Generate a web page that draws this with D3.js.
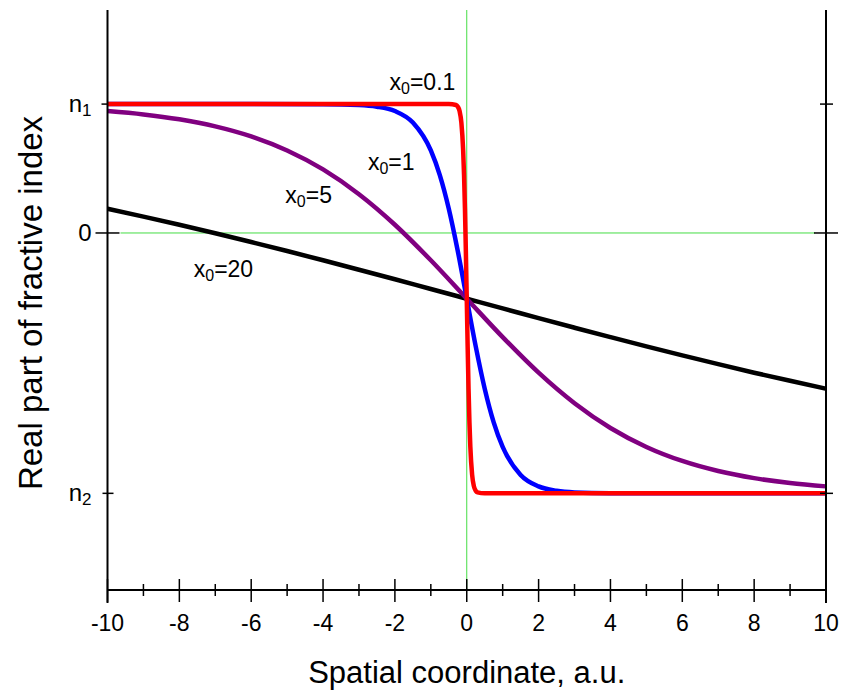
<!DOCTYPE html>
<html><head><meta charset="utf-8">
<script src="https://cdn.jsdelivr.net/npm/d3@7/dist/d3.min.js"></script>
<style>body{margin:0;background:#fff}svg{display:block}text{font-family:Arial,"Liberation Sans",sans-serif;fill:#000}</style>
</head><body>
<svg id="c" width="843" height="692"></svg>
<script>
// ---- data (y in units where 0 -> "0", 1 -> n1, -2.02 -> n2)
const xTicksMajor = [-10,-8,-6,-4,-2,0,2,4,6,8,10];
const xTicksMinor = [-9,-7,-5,-3,-1,1,3,5,7,9];
const yTickLabels = [{v:1, base:"n", sub:"1"}, {v:0, base:"0", sub:""}, {v:-2.02, base:"n", sub:"2"}];

const x20 = [-10,-9,-8,-7,-6,-5,-4,-3,-2,-1,0,1,2,3,4,5,6,7,8,9,10];
const y20 = [0.188,0.127,0.064,-0.002,-0.070,-0.140,-0.212,-0.285,-0.359,-0.435,-0.51,-0.585,-0.661,-0.735,-0.808,-0.880,-0.950,-1.018,-1.084,-1.147,-1.208];
const x5 = [-10,-9,-8,-7,-6,-5,-4,-3,-2,-1,0,1,2,3,4,5,6,7,8,9,10];
const y5 = [0.946,0.920,0.882,0.827,0.749,0.640,0.493,0.301,0.064,-0.212,-0.51,-0.808,-1.084,-1.321,-1.513,-1.660,-1.769,-1.847,-1.902,-1.940,-1.966];
const x1 = [-10,-6,-4,-3,-2.5,-2,-1.5,-1,-0.75,-0.5,-0.25,0,0.25,0.5,0.75,1,1.5,2,2.5,3,4,6,10];
const y1 = [1.0,1.0,0.999,0.993,0.980,0.946,0.857,0.640,0.449,0.188,-0.140,-0.51,-0.880,-1.208,-1.469,-1.660,-1.877,-1.966,-2.000,-2.013,-2.019,-2.020,-2.020];
const x01 = [-10,-1,-0.5,-0.3,-0.25,-0.2,-0.15,-0.1,-0.075,-0.05,-0.025,0,0.025,0.05,0.075,0.1,0.15,0.2,0.25,0.3,0.5,1,10];
const y01 = [1.0,1.0,1.0,0.993,0.980,0.946,0.857,0.640,0.449,0.188,-0.140,-0.51,-0.880,-1.208,-1.469,-1.660,-1.877,-1.966,-2.000,-2.013,-2.020,-2.020,-2.020];

const series = [
  {xs:x20, ys:y20, color:"#000000", label:"20", lx:-7.6, ly:-0.34},
  {xs:x5,  ys:y5,  color:"#800080", label:"5",  lx:-5.05, ly:0.23},
  {xs:x1,  ys:y1,  color:"#0000ff", label:"1",  lx:-2.75, ly:0.49},
  {xs:x01, ys:y01, color:"#ff0000", label:"0.1",lx:-2.15, ly:1.11}
];

// ---- layout
const svg = d3.select("#c");
const X = d3.scaleLinear().domain([-10,10]).range([107.5,826]);
const Y = d3.scaleLinear().domain([-2.77,1.73]).range([590,10]);
const L = X(-10), R = X(10), T = Y(1.73), B = Y(-2.77);

// green reference lines
svg.append("line").attr("x1",L+13).attr("x2",R-11).attr("y1",Y(0)).attr("y2",Y(0))
  .attr("stroke","#44dd44").attr("stroke-width",1);
svg.append("line").attr("x1",X(0)).attr("x2",X(0)).attr("y1",T).attr("y2",B)
  .attr("stroke","#44dd44").attr("stroke-width",1);

// curves
const line = d3.line().x(d=>X(d[0])).y(d=>Y(d[1])).curve(d3.curveMonotoneX);
series.forEach(s=>{
  svg.append("path").datum(s.xs.map((v,i)=>[v,s.ys[i]]))
    .attr("d",line).attr("fill","none").attr("stroke",s.color)
    .attr("stroke-width",4.5).attr("stroke-linejoin","round");
});

// axes lines
const ax = svg.append("g").attr("stroke","#000").attr("stroke-width",2);
ax.append("line").attr("x1",L).attr("x2",L).attr("y1",T).attr("y2",B+13);
ax.append("line").attr("x1",R).attr("x2",R).attr("y1",T).attr("y2",B+13);
ax.append("line").attr("x1",L).attr("x2",R).attr("y1",B).attr("y2",B);

// x ticks
xTicksMajor.forEach(v=>{
  ax.append("line").attr("x1",X(v)).attr("x2",X(v)).attr("y1",B-11).attr("y2",B+12).attr("stroke-width",1.5);
  svg.append("text").attr("x",X(v)).attr("y",B+41).attr("text-anchor","middle")
    .attr("font-size",23).text(v);
});
xTicksMinor.forEach(v=>{
  ax.append("line").attr("x1",X(v)).attr("x2",X(v)).attr("y1",B-6).attr("y2",B+6).attr("stroke-width",1.5);
});

// y ticks (left and right)
const tickSpec = {"1":[-6,0,-6,7], "0":[-12,12,-12,12], "-2.02":[-5,6,-6,7]};
yTickLabels.forEach(t=>{
  const sp = tickSpec[String(t.v)];
  ax.append("line").attr("x1",L+sp[0]).attr("x2",L+sp[1]).attr("y1",Y(t.v)).attr("y2",Y(t.v)).attr("stroke-width",1.5);
  ax.append("line").attr("x1",R+sp[2]).attr("x2",R+sp[3]).attr("y1",Y(t.v)).attr("y2",Y(t.v)).attr("stroke-width",1.5);
  const tx = svg.append("text").attr("x",L-16).attr("y",Y(t.v)+8).attr("text-anchor","end").attr("font-size",24);
  tx.append("tspan").text(t.base);
  if(t.sub) tx.append("tspan").attr("font-size",17).attr("dy",4).text(t.sub);
});

// curve labels
series.forEach(s=>{
  const tx = svg.append("text").attr("x",X(s.lx)).attr("y",Y(s.ly)).attr("font-size",23);
  tx.append("tspan").text("x");
  tx.append("tspan").attr("font-size",16).attr("dy",4).text("0");
  tx.append("tspan").attr("dy",-4).text("=" + s.label);
});

// axis titles
svg.append("text").attr("x",(L+R)/2).attr("y",683).attr("text-anchor","middle")
  .attr("font-size",31).text("Spatial coordinate, a.u.");
svg.append("text").attr("transform","translate(42,"+((T+B)/2+3)+") rotate(-90)")
  .attr("text-anchor","middle").attr("font-size",33).text("Real part of fractive index");
</script>
</body></html>
